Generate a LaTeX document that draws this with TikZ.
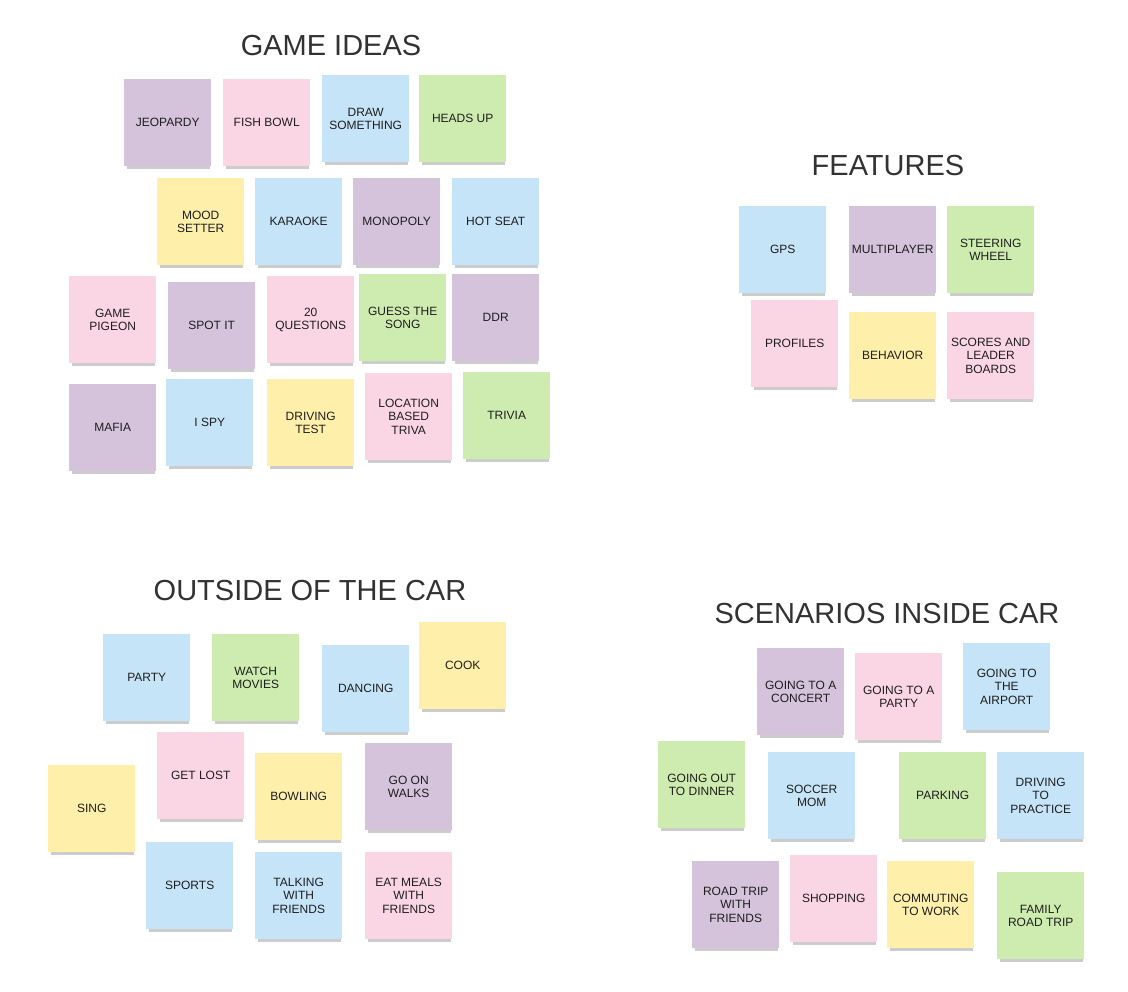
\documentclass[tikz,border=0pt]{standalone}
\usepackage{fontspec}
\setmainfont{Liberation Sans}
\usetikzlibrary{shadows}
\definecolor{cpurple}{RGB}{213,195,219}
\definecolor{cpink}{RGB}{250,214,228}
\definecolor{cblue}{RGB}{198,228,247}
\definecolor{cgreen}{RGB}{206,236,176}
\definecolor{cyellow}{RGB}{254,239,170}
\definecolor{ctitle}{RGB}{50,50,50}
\definecolor{cnotetext}{RGB}{30,30,30}
\begin{document}
\begin{tikzpicture}[x=1pt,y=-1pt,
  note/.style={anchor=north west, minimum width=87pt, minimum height=87pt,
    inner sep=1pt, align=center, text=cnotetext,
    font=\fontsize{12}{13.5}\selectfont,
    drop shadow={shadow xshift=1pt, shadow yshift=-5pt, shadow scale=0.95,
      opacity=0.2, fill=black}},
  np/.style={note, fill=cpurple},
  nk/.style={note, fill=cpink},
  nb/.style={note, fill=cblue},
  ng/.style={note, fill=cgreen},
  ny/.style={note, fill=cyellow},
  grouptitle/.style={font=\fontsize{29}{32}\selectfont, text=ctitle, inner sep=0pt}]
\useasboundingbox[fill=white] (0,0) rectangle (1128,992);

% ---------- GAME IDEAS ----------
\node[grouptitle] (tgame) at (331,46) {GAME IDEAS};
\node[np] (jeopardy) at (124,79) {JEOPARDY};
\node[nk] (fishbowl) at (223,79) {FISH BOWL};
\node[nb] (drawsomething) at (322,75) {DRAW\\SOMETHING};
\node[ng] (headsup) at (419,75) {HEADS UP};
\node[ny] (moodsetter) at (157,178) {MOOD\\SETTER};
\node[nb] (karaoke) at (255,178) {KARAOKE};
\node[np] (monopoly) at (353,178) {MONOPOLY};
\node[nb] (hotseat) at (452,178) {HOT SEAT};
\node[nk] (gamepigeon) at (69,276) {GAME\\PIGEON};
\node[np] (spotit) at (168,282) {SPOT IT};
\node[nk] (twentyq) at (267,276) {20\\QUESTIONS};
\node[ng] (guesssong) at (359,274) {GUESS THE\\SONG};
\node[np] (ddr) at (452,274) {DDR};
\node[np] (mafia) at (69,384) {MAFIA};
\node[nb] (ispy) at (166,379) {I SPY};
\node[ny] (drivingtest) at (267,379) {DRIVING\\TEST};
\node[nk] (locationtrivia) at (365,373) {LOCATION\\BASED\\TRIVA};
\node[ng] (trivia) at (463,372) {TRIVIA};

% ---------- FEATURES ----------
\node[grouptitle] (tfeat) at (888,166) {FEATURES};
\node[nb] (gps) at (739,206) {GPS};
\node[np] (multiplayer) at (849,206) {MULTIPLAYER};
\node[ng] (steering) at (947,206) {STEERING\\WHEEL};
\node[nk] (profiles) at (751,300) {PROFILES};
\node[ny] (behavior) at (849,312) {BEHAVIOR};
\node[nk] (scores) at (947,312) {SCORES AND\\LEADER\\BOARDS};

% ---------- OUTSIDE OF THE CAR ----------
\node[grouptitle] (tout) at (310,591) {OUTSIDE OF THE CAR};
\node[nb] (party) at (103,634) {PARTY};
\node[ng] (watchmovies) at (212,634) {WATCH\\MOVIES};
\node[nb] (dancing) at (322,645) {DANCING};
\node[ny] (cook) at (419,622) {COOK};
\node[nk] (getlost) at (157,732) {GET LOST};
\node[ny] (sing) at (48,765) {SING};
\node[ny] (bowling) at (255,753) {BOWLING};
\node[np] (goonwalks) at (365,743) {GO ON\\WALKS};
\node[nb] (sports) at (146,842) {SPORTS};
\node[nb] (talking) at (255,852) {TALKING\\WITH\\FRIENDS};
\node[nk] (eatmeals) at (365,852) {EAT MEALS\\WITH\\FRIENDS};

% ---------- SCENARIOS INSIDE CAR ----------
\node[grouptitle] (tscen) at (887,614) {SCENARIOS INSIDE CAR};
\node[np] (concert) at (757,648) {GOING TO A\\CONCERT};
\node[nk] (goingparty) at (855,653) {GOING TO A\\PARTY};
\node[nb] (airport) at (963,643) {GOING TO\\THE\\AIRPORT};
\node[ng] (dinner) at (658,741) {GOING OUT\\TO DINNER};
\node[nb] (soccer) at (768,752) {SOCCER\\MOM};
\node[ng] (parking) at (899,752) {PARKING};
\node[nb] (practice) at (997,752) {DRIVING\\TO\\PRACTICE};
\node[np] (roadtrip) at (692,861) {ROAD TRIP\\WITH\\FRIENDS};
\node[nk] (shopping) at (790,855) {SHOPPING};
\node[ny] (commuting) at (887,861) {COMMUTING\\TO WORK};
\node[ng] (family) at (997,872) {FAMILY\\ROAD TRIP};
\end{tikzpicture}
\end{document}
